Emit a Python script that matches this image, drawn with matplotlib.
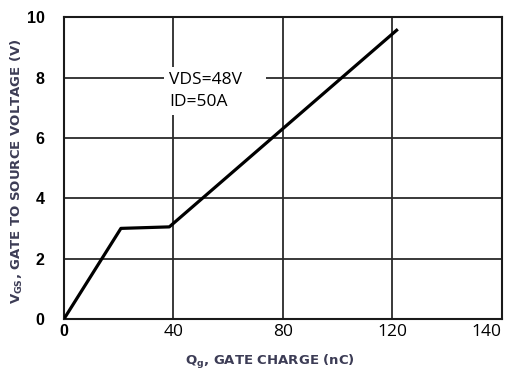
import numpy as np
import matplotlib
matplotlib.use('Agg')
import matplotlib.pyplot as plt

# gate charge curve
qg_nc = [0, 20.8, 38.5, 122]
vgs_v = [0, 3.0, 3.05, 9.6]

x_ticks = [0, 40, 80, 120, 160]
x_tick_labels = ['0', '40', '80', '120', '140']
y_ticks = [0, 2, 4, 6, 8, 10]

fig = plt.figure(figsize=(5.12, 3.73), dpi=100)
ax = fig.add_axes([0.125, 0.145, 0.855, 0.809])

ax.plot(qg_nc, vgs_v, color='black', lw=2.3, solid_capstyle='butt', zorder=5)

ax.set_xlim(0, 160)
ax.set_ylim(0, 10)
ax.set_xticks(x_ticks)
ax.set_xticklabels(x_tick_labels, family='Open Sans', fontsize=12.5)
xl = ax.get_xticklabels()
xl[0].set_fontweight('bold')
xl[0].set_family('Liberation Sans')
xl[0].set_fontsize(11.5)
xl[-1].set_horizontalalignment('right')
ax.set_yticks(y_ticks)
ax.set_yticklabels([str(v) for v in y_ticks], family='Liberation Sans',
        fontweight='bold', fontsize=11.5)
ax.tick_params(length=0)
ax.tick_params(axis='y', pad=14)
ax.tick_params(axis='x', pad=4)

ax.grid(True, color='#2a2a2a', lw=1.3, zorder=1)
ax.set_axisbelow(True)
for s in ax.spines.values():
    s.set_linewidth(1.5)
    s.set_color('#1a1a1a')

ax.set_xlabel(r'$\mathbf{Q_g}$, GATE CHARGE (nC)', family='DejaVu Sans',
        fontweight='bold', fontsize=9.5, color='#3c3c55')
ax.xaxis.set_label_coords(0.47, -0.112)
ax.set_ylabel(r'$\mathbf{V_{GS}}$, GATE TO SOURCE VOLTAGE (V)', family='DejaVu Sans',
        fontweight='bold', fontsize=9.5, color='#3c3c55')
ax.yaxis.set_label_coords(-0.09, 0.49)

ax.text(38.5, 7.55, 'VDS=48V    \nID=50A', family='Open Sans', fontsize=12.5,
        linespacing=1.45, va='center', ha='left', zorder=3,
        bbox=dict(facecolor='white', edgecolor='none', boxstyle='square,pad=0.3'))

fig.savefig('out.png', dpi=100)
